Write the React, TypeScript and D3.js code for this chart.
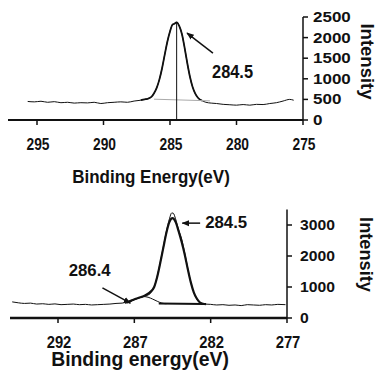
import React from "react";
import * as d3 from "d3";

// ---------- Top spectrum (panel a) ----------
const topEnergy = [295.7,295.2,294.7,294.2,293.7,293.2,292.7,292.2,291.7,291.2,290.7,290.2,289.7,289.2,288.7,288.2,287.7,287.2,286.9,286.7,286.4,286.2,286.0,285.8,285.6,285.4,285.2,285.0,284.8,284.7,284.5,284.3,284.1,283.9,283.7,283.5,283.3,283.1,282.9,282.6,282.3,281.9,281.5,281.0,280.5,280.0,279.5,279.0,278.5,278.0,277.5,277.0,276.5,276.0,275.7];
const topIntensity = [450,440,455,430,445,420,430,410,420,415,430,400,420,430,440,430,460,480,500,515,560,650,780,980,1250,1580,1900,2150,2320,2330,2370,2280,2080,1750,1380,1050,800,640,540,470,430,410,400,380,370,360,375,360,380,375,400,420,460,500,480];
const topBgEnergy = [286.2, 282.0];
const topBgIntensity = [505, 465];
const topPeak = 284.5;
const topTicksX = [295, 290, 285, 280, 275];
const topTicksY = [0, 500, 1000, 1500, 2000, 2500];

// ---------- Bottom spectrum (panel b) ----------
const botEnergy = [295.0,294.6,294.2,293.8,293.4,293.0,292.6,292.2,291.8,291.4,291.0,290.6,290.2,289.8,289.4,289.0,288.6,288.2,287.8,287.4,287.0,286.6,286.2,285.9,285.7,285.5,285.3,285.1,284.9,284.7,284.55,284.45,284.3,284.1,283.9,283.7,283.5,283.3,283.1,282.9,282.7,282.4,282.0,281.6,281.2,280.8,280.4,280.0,279.6,279.2,278.8,278.4,278.0,277.6,277.1];
const botIntensity = [520,490,470,480,450,460,440,455,430,440,450,430,440,420,430,440,450,470,480,530,600,660,720,820,1000,1350,1800,2300,2800,3200,3390,3380,3200,2850,2550,2100,1600,1150,820,600,500,450,440,420,430,410,420,400,430,420,410,430,420,440,430];
const fitEnergy = [287.5,287.2,286.9,286.6,286.3,286.0,285.7,285.5,285.3,285.1,284.9,284.7,284.5,284.3,284.1,283.9,283.7,283.5,283.3,283.1,282.9,282.7,282.5,282.3];
const fitIntensity = [500,560,620,670,730,820,1000,1330,1780,2270,2750,3100,3220,3100,2800,2450,2050,1580,1150,820,620,500,460,450];
const compEnergy = [287.6,287.3,287.0,286.7,286.4,286.1,285.8,285.5,285.2,284.9];
const compIntensity = [470,520,590,650,690,670,610,540,480,460];
const botBgEnergy = [285.4, 282.4];
const botBgIntensity = [470, 455];
const botTicksX = [292, 287, 282, 277];
const botTicksY = [0, 1000, 2000, 3000];

const FONT = "'Liberation Sans', Arial, sans-serif";
const INK = "#111";

function zip(xs: number[], ys: number[]): [number, number][] {
  return xs.map((x, i) => [x, ys[i]]);
}

function T(props: { x: number; y: number; size: number; sy?: number; anchor?: string; rotate?: number; weight?: string; children: React.ReactNode }) {
  const { x, y, size, sy = 1, anchor = "start", rotate = 0, weight = "bold", children } = props;
  return (
    <text transform={`translate(${x},${y}) rotate(${rotate}) scale(1,${sy})`} textAnchor={anchor}
      fontSize={size} fontWeight={weight} fill={INK}>{children}</text>
  );
}

export default function App() {
  const xT = d3.scaleLinear().domain([295, 275]).range([37, 303]);
  const yT = d3.scaleLinear().domain([0, 2500]).range([120, 17]);
  const xB = d3.scaleLinear().domain([292, 277]).range([58, 287]);
  const yB = d3.scaleLinear().domain([0, 3000]).range([318, 225]);

  const lineT = d3.line<[number, number]>().x(d => xT(d[0])).y(d => yT(d[1])).curve(d3.curveMonotoneX);
  const lineB = d3.line<[number, number]>().x(d => xB(d[0])).y(d => yB(d[1])).curve(d3.curveMonotoneX);

  const topData = zip(topEnergy, topIntensity).reverse();
  const topThick = topData.filter(d => d[0] <= 287.2 && d[0] >= 282.6);
  const botData = zip(botEnergy, botIntensity).reverse();
  const fitData = zip(fitEnergy, fitIntensity).reverse();
  const compData = zip(compEnergy, compIntensity).reverse();

  const peakTop = topIntensity[topEnergy.indexOf(topPeak)];

  return (
    <svg width={379} height={372} style={{ position: "absolute", left: 0, top: 0, background: "#fff" }}
      fontFamily={FONT}>
      <defs>
        <marker id="arr" viewBox="0 0 10 10" refX="9" refY="5" markerWidth="5" markerHeight="5" orient="auto">
          <path d="M0,1 L10,5 L0,9 z" fill={INK} />
        </marker>
      </defs>
      {/* ---------- TOP ---------- */}
      <g>
        <path d={lineT(topData) || ""} fill="none" stroke={INK} strokeWidth={1} />
        <path d={lineT(topThick) || ""} fill="none" stroke={INK} strokeWidth={1.8} />
        <line x1={xT(topBgEnergy[0])} y1={yT(topBgIntensity[0])} x2={xT(topBgEnergy[1])} y2={yT(topBgIntensity[1])} stroke="#aaa" strokeWidth={1} />
        <line x1={xT(topPeak)} x2={xT(topPeak)} y1={yT(peakTop)} y2={yT(0)} stroke={INK} strokeWidth={1} />
        <line x1={8} x2={xT(275)} y1={yT(0)} y2={yT(0)} stroke={INK} strokeWidth={2} />
        {topTicksX.map(t => (
          <g key={t}>
            <line x1={xT(t)} x2={xT(t)} y1={yT(0)} y2={yT(0) + 5} stroke={INK} strokeWidth={1.5} />
            <T x={xT(t) + 1} y={150} size={13.8} sy={1.2} anchor="middle">{t}</T>
          </g>
        ))}
        <line x1={xT(275)} x2={xT(275)} y1={yT(2500)} y2={yT(0)} stroke={INK} strokeWidth={1.5} />
        {topTicksY.map(t => (
          <g key={t}>
            <line x1={xT(275)} x2={xT(275) + 5} y1={yT(t)} y2={yT(t)} stroke={INK} strokeWidth={1.5} />
            <T x={xT(275) + 10} y={yT(t) + 5} size={17} sy={0.82}>{t}</T>
          </g>
        ))}
        <T x={361} y={61.5} size={18.5} rotate={90} anchor="middle">Intensity</T>
        <T x={151} y={183} size={17} sy={1.07} anchor="middle">Binding Energy(eV)</T>
        <line x1={xT(281.77)} y1={yT(1625)} x2={xT(283.72)} y2={yT(2110)} stroke={INK} strokeWidth={1.5} markerEnd="url(#arr)" />
        <T x={xT(281.84)} y={78} size={16.4} sy={1.1}>284.5</T>
      </g>
      {/* ---------- BOTTOM ---------- */}
      <g>
        <path d={lineB(botData) || ""} fill="none" stroke={INK} strokeWidth={1} />
        <path d={lineB(compData) || ""} fill="none" stroke={INK} strokeWidth={1} />
        <path d={lineB(fitData) || ""} fill="none" stroke={INK} strokeWidth={2.2} />
        <line x1={xB(botBgEnergy[0])} y1={yB(botBgIntensity[0])} x2={xB(botBgEnergy[1])} y2={yB(botBgIntensity[1])} stroke={INK} strokeWidth={2} />
        <line x1={10} x2={xB(277)} y1={yB(0)} y2={yB(0)} stroke={INK} strokeWidth={2.5} />
        {botTicksX.map(t => (
          <g key={t}>
            <line x1={xB(t)} x2={xB(t)} y1={yB(0)} y2={yB(0) + 5} stroke={INK} strokeWidth={1.5} />
            <T x={xB(t) + 1} y={348} size={14.8} sy={1.07} anchor="middle">{t}</T>
          </g>
        ))}
        <line x1={xB(277)} x2={xB(277)} y1={yB(3500)} y2={yB(0)} stroke={INK} strokeWidth={1.5} />
        {botTicksY.map(t => (
          <g key={t}>
            <line x1={xB(277)} x2={xB(277) + 5} y1={yB(t)} y2={yB(t)} stroke={INK} strokeWidth={1.5} />
            <T x={xB(277) + 13} y={yB(t) + 5} size={15.7} sy={0.9}>{t}</T>
          </g>
        ))}
        <T x={360} y={254.5} size={18.2} rotate={90} anchor="middle">Intensity</T>
        <T x={140} y={366} size={19.4} anchor="middle">Binding energy(eV)</T>
        <line x1={xB(282.69)} y1={yB(3060)} x2={xB(283.86)} y2={yB(3060)} stroke={INK} strokeWidth={1.5} markerEnd="url(#arr)" />
        <T x={xB(282.36)} y={228} size={16.8}>284.5</T>
        <line x1={xB(289.09)} y1={yB(970)} x2={xB(287.26)} y2={yB(480)} stroke={INK} strokeWidth={1.5} markerEnd="url(#arr)" />
        <T x={xB(291.3)} y={276} size={16.8}>286.4</T>
      </g>
    </svg>
  );
}
